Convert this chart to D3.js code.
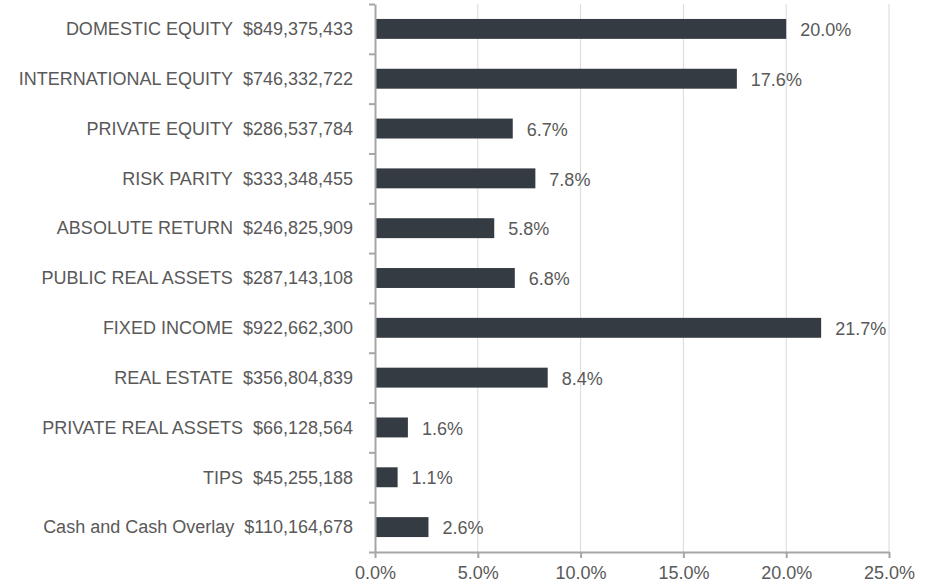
<!DOCTYPE html>
<html lang="en">
<head>
<meta charset="utf-8">
<script src="https://d3js.org/d3.v7.min.js"></script>
<style>
  body { margin: 0; background: #fff; }
  svg text { font-family: "Liberation Sans", Arial, sans-serif; font-size: 18px; fill: #595959; }
</style>
</head>
<body>
<svg id="chart" width="935" height="587"></svg>
<script>
// asset classes, market values and share of total
var categories = ["DOMESTIC EQUITY", "INTERNATIONAL EQUITY", "PRIVATE EQUITY", "RISK PARITY",
  "ABSOLUTE RETURN", "PUBLIC REAL ASSETS", "FIXED INCOME", "REAL ESTATE",
  "PRIVATE REAL ASSETS", "TIPS", "Cash and Cash Overlay"]
var amounts = ["$849,375,433", "$746,332,722", "$286,537,784", "$333,348,455", "$246,825,909",
  "$287,143,108", "$922,662,300", "$356,804,839", "$66,128,564", "$45,255,188", "$110,164,678"]
var percents = [20.0, 17.6, 6.7, 7.8, 5.8, 6.8, 21.7, 8.4, 1.6, 1.1, 2.6]
var xTicks = [0, 5, 10, 15, 20, 25]

var plotLeft = 375, plotRight = 889, plotTop = 4, plotBottom = 552

var svg = d3.select("#chart")

var x = d3.scaleLinear().domain([0, 25]).range([plotLeft, plotRight])
var y = d3.scaleBand().domain(categories).range([plotTop, plotBottom])
    .paddingInner(0.6).paddingOuter(0.3)

// gridlines
svg.append("g").selectAll("line").data(xTicks.slice(1)).enter().append("line")
    .attr("x1", d => x(d)).attr("x2", d => x(d))
    .attr("y1", plotTop).attr("y2", plotBottom)
    .attr("stroke", "#d9d9d9").attr("stroke-width", 1)

// bars
svg.append("g").selectAll("rect").data(categories).enter().append("rect")
    .attr("x", x(0))
    .attr("y", d => y(d))
    .attr("width", (d, i) => x(percents[i]) - x(0))
    .attr("height", y.bandwidth())
    .attr("fill", "#343b42")

// value labels
svg.append("g").selectAll("text").data(categories).enter().append("text")
    .attr("x", (d, i) => x(percents[i]) + 14)
    .attr("y", d => y(d) + y.bandwidth() / 2)
    .attr("dy", "0.4em")
    .text((d, i) => d3.format(".1f")(percents[i]) + "%")

// category labels
svg.append("g").selectAll("text").data(categories).enter().append("text")
    .attr("x", 353)
    .attr("y", d => y(d) + y.bandwidth() / 2)
    .attr("dy", "0.35em")
    .attr("text-anchor", "end")
    .text((d, i) => d + "\u00a0\u00a0" + amounts[i])

// y axis with ticks between categories
var yEdges = d3.scaleLinear().domain([0, categories.length]).range([plotTop, plotBottom])
var yAxis = svg.append("g").attr("transform", "translate(" + plotLeft + ",0)")
    .call(d3.axisLeft(yEdges).tickValues(d3.range(categories.length + 1)).tickFormat("").tickSize(6).tickSizeOuter(0))
yAxis.selectAll("path, line").attr("stroke", "#a6a6a6").attr("stroke-width", 2)

// x axis
var xAxis = svg.append("g").attr("transform", "translate(0," + plotBottom + ")")
    .call(d3.axisBottom(x).tickValues(xTicks).tickFormat(d => d3.format(".1f")(d) + "%").tickSize(6).tickSizeOuter(0).tickPadding(8))
xAxis.selectAll("path, line").attr("stroke", "#a6a6a6").attr("stroke-width", 2)
xAxis.selectAll("text").attr("font-size", null).attr("font-family", null).style("font-size", "18px").attr("fill", "#595959")
</script>
</body>
</html>
